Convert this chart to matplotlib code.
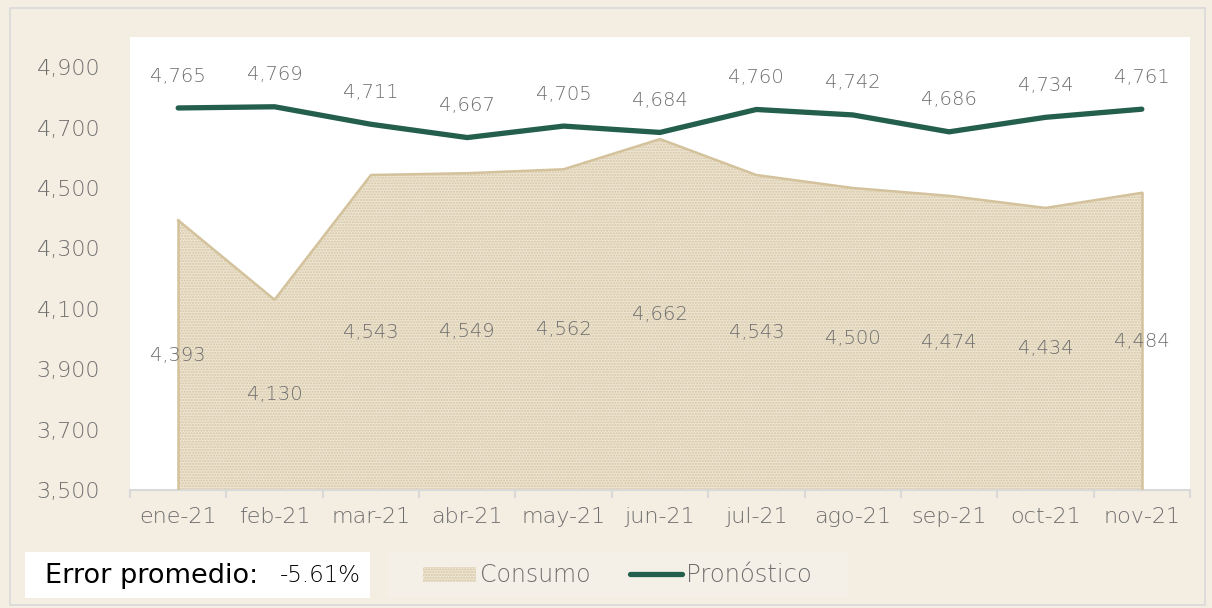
import matplotlib
matplotlib.use("Agg")
import matplotlib.pyplot as plt
from matplotlib.patches import Rectangle
from matplotlib.lines import Line2D
import numpy as np

months = ["ene-21", "feb-21", "mar-21", "abr-21", "may-21", "jun-21",
          "jul-21", "ago-21", "sep-21", "oct-21", "nov-21"]
consumo = [4393, 4130, 4543, 4549, 4562, 4662, 4543, 4500, 4474, 4434, 4484]
pronostico = [4765, 4769, 4711, 4667, 4705, 4684, 4760, 4742, 4686, 4734, 4761]
yticks = [3500, 3700, 3900, 4100, 4300, 4500, 4700, 4900]
error_text = "Error promedio:"
error_value = "-5.61%"

W, H = 1212, 608
BG = "#F3EDE2"
GREY = "#6E6E6E"
GREEN = "#245E4C"
SAND = "#D3C29C"
FONT = "DejaVu Sans"
WT = "light"

plt.rcParams["hatch.linewidth"] = 1.0
fig = plt.figure(figsize=(W / 100, H / 100), dpi=100, facecolor=BG)

# outer frame
fig.patches.append(Rectangle((10 / W, 3 / H), 1195 / W, 597 / H, transform=fig.transFigure,
                             facecolor=BG, edgecolor="#D9D9D9", lw=1.2, zorder=-10))

ax = fig.add_axes([130 / W, 1 - 490 / H, 1060 / W, 453 / H])
ax.set_facecolor("white")
x = np.arange(len(months))

ax.fill_between(x, consumo, 3500, facecolor="#EDE4D2", edgecolor="#D6C6A4",
                hatch="......", lw=0, zorder=2)
ax.plot(x, consumo, color=SAND, lw=1.8, zorder=3)
ax.plot([x[0], x[0]], [3500, consumo[0]], color=SAND, lw=1.8, zorder=3)
ax.plot([x[-1], x[-1]], [3500, consumo[-1]], color=SAND, lw=1.8, zorder=3)
ax.plot(x, pronostico, color=GREEN, lw=3.8, solid_capstyle="round", zorder=4)

for xi, v in zip(x, consumo):
    ax.text(xi, (v + 3500) / 2, f"{v:,}", ha="center", va="center",
            color=GREY, fontsize=14, family=FONT, weight=WT, zorder=5)
for xi, v in zip(x, pronostico):
    ax.annotate(f"{v:,}", (xi, v), xytext=(0, 23), textcoords="offset points",
                ha="center", va="center", color=GREY, fontsize=14, family=FONT,
                weight=WT, zorder=5)

ax.set_xlim(-0.5, len(months) - 0.5)
ax.set_ylim(3500, 5000)
ax.set_yticks(yticks)
ax.set_yticklabels([f"{v:,}" for v in yticks], color=GREY, fontsize=16, family=FONT,
                   weight=WT)
ax.set_xticks(x)
ax.set_xticklabels(months, color=GREY, fontsize=16, family=FONT, weight=WT)
ax.set_xticks(np.arange(-0.5, len(months), 1), minor=True)
ax.tick_params(axis="y", length=0, pad=21.5)
ax.tick_params(axis="x", which="major", length=0, pad=12)
ax.tick_params(axis="x", which="minor", length=6, color="#D9D9D9", width=1.5)
for s in ["top", "right", "left"]:
    ax.spines[s].set_visible(False)
ax.spines["bottom"].set_color("#D9D9D9")
ax.spines["bottom"].set_linewidth(1.5)

# error box
fig.patches.append(Rectangle((25 / W, 1 - 598 / H), 345 / W, 46 / H, transform=fig.transFigure,
                             facecolor="white", edgecolor="none", zorder=1))
fig.text(45 / W, 1 - 576 / H, error_text, ha="left", va="center", fontsize=19.5,
         family=FONT, color="black")
fig.text(361 / W, 1 - 576 / H, error_value, ha="right", va="center", fontsize=16.5,
         family=FONT, color="black", weight=WT)

# legend box
fig.patches.append(Rectangle((388 / W, 1 - 598 / H), 460 / W, 46 / H, transform=fig.transFigure,
                             facecolor="#F5F0E7", edgecolor="none", zorder=1))
fig.patches.append(Rectangle((423 / W, 1 - 582 / H), 53 / W, 15 / H, transform=fig.transFigure,
                             facecolor="#EDE4D2", edgecolor="#D6C6A4", hatch="......", lw=0, zorder=2))
fig.text(480 / W, 1 - 575 / H, "Consumo", ha="left", va="center", fontsize=17,
         family=FONT, color=GREY, weight=WT)
fig.lines.append(Line2D([630 / W, 682 / W], [1 - 574 / H, 1 - 574 / H], transform=fig.transFigure,
                        color=GREEN, lw=3.8, solid_capstyle="round"))
fig.text(686 / W, 1 - 575 / H, "Pronóstico", ha="left", va="center", fontsize=17.5,
         family=FONT, color=GREY, weight=WT)

fig.savefig("out.png", dpi=100, facecolor=BG)
